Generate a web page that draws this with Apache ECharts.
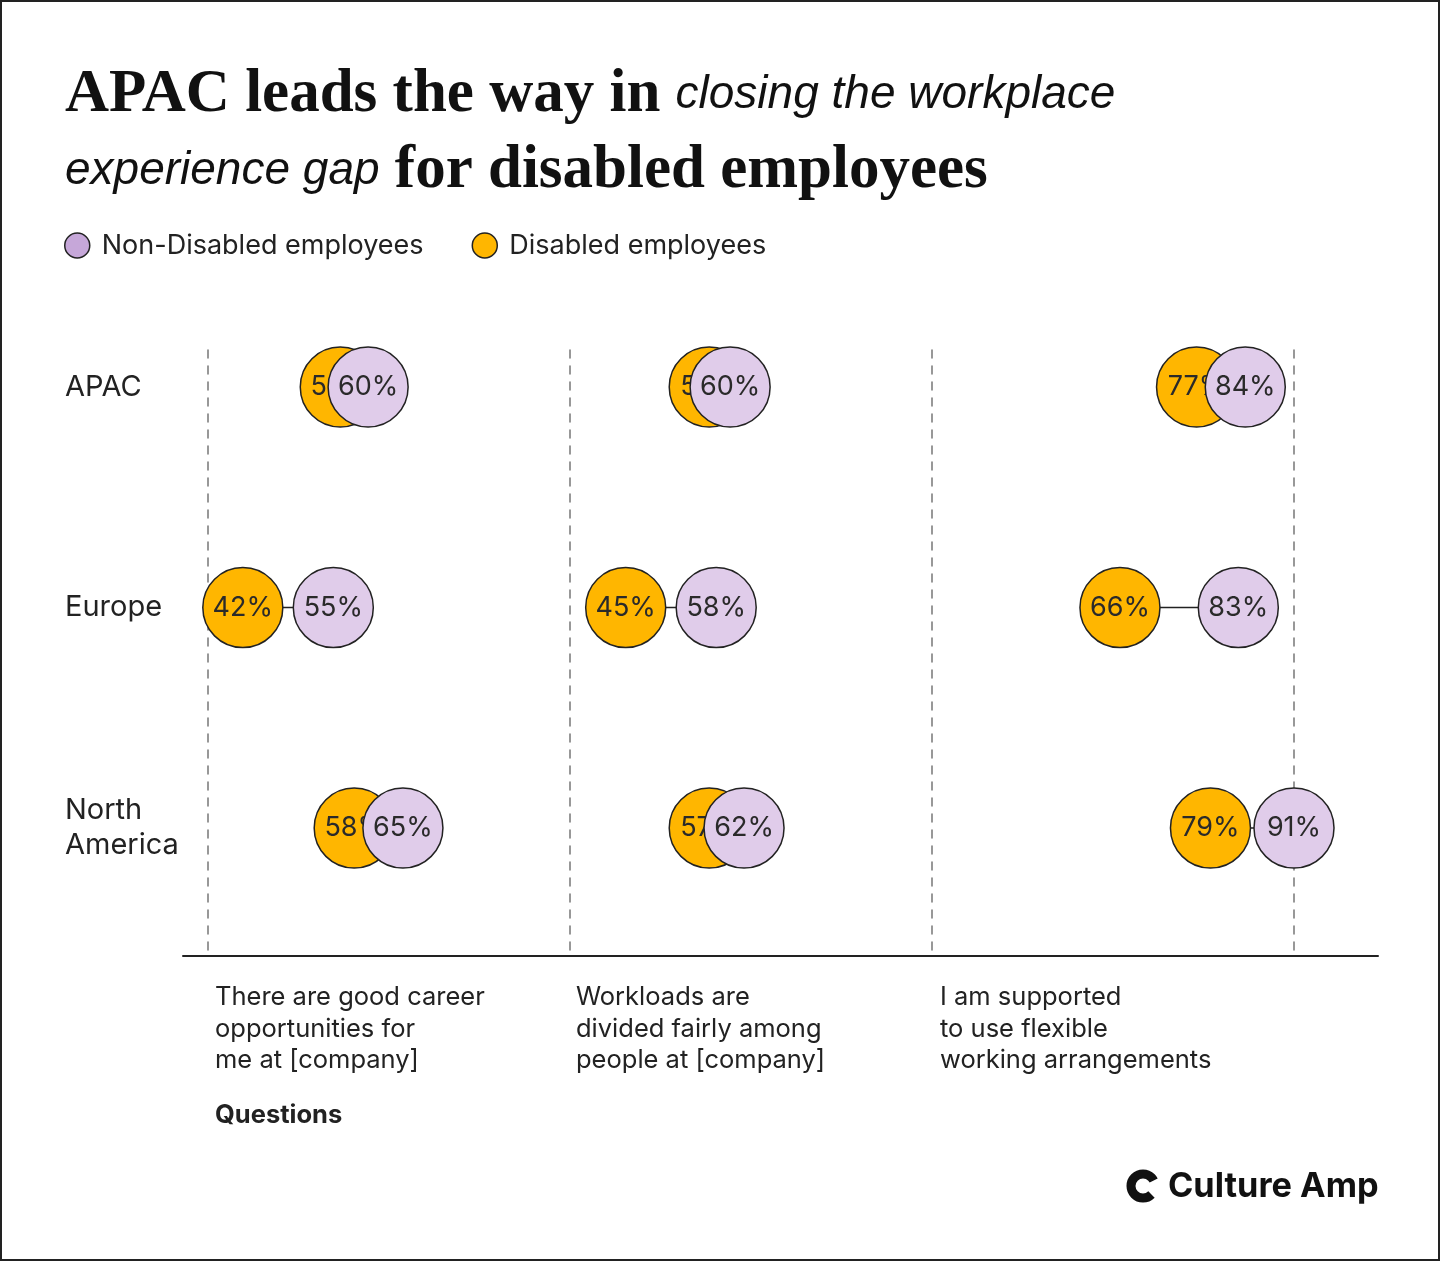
<!DOCTYPE html>
<html>
<head>
<meta charset="utf-8">
<script src="https://cdn.jsdelivr.net/npm/echarts@6/dist/echarts.min.js"></script>
<style>
html,body{margin:0;padding:0;background:#fff;}
#chart{width:1440px;height:1261px;}
</style>
</head>
<body>
<div id="chart"></div>
<script>
// ---- data ----
var regions = ['APAC', 'Europe', 'North America'];
var questions = [
  'There are good career\nopportunities for\nme at [company]',
  'Workloads are\ndivided fairly among\npeople at [company]',
  'I am supported\nto use flexible\nworking arrangements'
];
var disabledCareer = [56, 42, 58];
var nonDisabledCareer = [60, 55, 65];
var disabledWorkload = [57, 45, 57];
var nonDisabledWorkload = [60, 58, 62];
var disabledFlexible = [77, 66, 79];
var nonDisabledFlexible = [84, 83, 91];
var seriesNames = ['Non-Disabled employees', 'Disabled employees'];

var disabledSets = [disabledCareer, disabledWorkload, disabledFlexible];
var nonDisabledSets = [nonDisabledCareer, nonDisabledWorkload, nonDisabledFlexible];

// ---- style ----
var ORANGE = '#FFB600';
var LAVENDER = '#E0CCEA';
var LEGEND_LAV = '#C6A7D9';
var INK = '#222222';
var SANS = 'Inter, "Noto Sans", sans-serif';

var panelLeft = [208, 570, 932];
var panelWidth = 362;
var xRanges = [[37, 89], [37, 89], [39, 91]];
var gridTop = 350, gridBottom = 1261 - 956;
var yMin = -0.168, yMax = 2.58;

var grids = [], xAxes = [], yAxes = [], series = [];
for (var p = 0; p < 3; p++) {
  grids.push({left: panelLeft[p], width: panelWidth, top: gridTop, bottom: gridBottom, containLabel: false});
  xAxes.push({
    type: 'value', gridIndex: p, min: xRanges[p][0], max: xRanges[p][1],
    axisLine: {show: false}, axisTick: {show: false}, axisLabel: {show: false}, splitLine: {show: false}
  });
  yAxes.push({
    type: 'value', gridIndex: p, inverse: true, min: yMin, max: yMax,
    axisLine: {show: true, onZero: false, lineStyle: {color: '#777', width: 1.5, type: [8, 8]}},
    axisTick: {show: false}, splitLine: {show: false},
    axisLabel: p === 0 ? {
      show: true, customValues: [0, 1, 2], align: 'left', margin: 143,
      fontFamily: SANS, fontSize: 29, color: INK, lineHeight: 35, padding: [4, 0, 0, 0],
      formatter: function (v) { return regions[Math.round(v)].replace(' ', '\n'); }
    } : {show: false}
  });
}
// right edge dashed line of the last panel
yAxes.push({
  type: 'value', gridIndex: 2, inverse: true, min: yMin, max: yMax, position: 'right',
  axisLine: {show: true, onZero: false, lineStyle: {color: '#777', width: 1.5, type: [8, 8]}},
  axisTick: {show: false}, axisLabel: {show: false}, splitLine: {show: false}
});
// baseline grid
grids.push({left: 183, right: 1440 - 1378, top: gridTop, bottom: gridBottom});
xAxes.push({type: 'value', gridIndex: 3, min: 0, max: 1,
  axisLine: {show: true, onZero: false, lineStyle: {color: INK, width: 2}},
  axisTick: {show: false}, axisLabel: {show: false}, splitLine: {show: false}});
yAxes.push({type: 'value', gridIndex: 3, min: 0, max: 1, show: false});

for (var p = 0; p < 3; p++) {
  var dData = [], nData = [], cData = [];
  for (var r = 0; r < regions.length; r++) {
    dData.push([disabledSets[p][r], r]);
    nData.push([nonDisabledSets[p][r], r]);
    cData.push([disabledSets[p][r], nonDisabledSets[p][r], r]);
  }
  series.push({
    type: 'custom', xAxisIndex: p, yAxisIndex: p, z: 1, silent: true,
    data: cData,
    renderItem: function (params, api) {
      var a = api.coord([api.value(0), api.value(2)]);
      var b = api.coord([api.value(1), api.value(2)]);
      return {type: 'line', shape: {x1: a[0], y1: a[1], x2: b[0], y2: b[1]},
        style: {stroke: INK, lineWidth: 1.5}};
    }
  });
  var lab = {
    show: true, position: 'inside', fontFamily: SANS, fontSize: 27, color: '#2a2a2a',
    formatter: function (prm) { return prm.value[0] + '%'; }
  };
  series.push({
    name: seriesNames[1], type: 'scatter', xAxisIndex: p, yAxisIndex: p, z: 3,
    symbol: 'circle', symbolSize: 80, data: dData,
    itemStyle: {color: ORANGE, borderColor: INK, borderWidth: 1.5, opacity: 1},
    label: lab, emphasis: {disabled: true}
  });
  series.push({
    name: seriesNames[0], type: 'scatter', xAxisIndex: p, yAxisIndex: p, z: 4,
    symbol: 'circle', symbolSize: 80, data: nData,
    itemStyle: {color: LAVENDER, borderColor: INK, borderWidth: 1.5, opacity: 1},
    label: lab, emphasis: {disabled: true}
  });
}

var titles = [{
  left: 65, top: 57, padding: 0,
  text: '{b|APAC leads the way in }{h|closing the workplace}\n{h|experience gap}{b| for disabled employees}',
  textStyle: {
    rich: {
      b: {fontFamily: '"Liberation Serif", "DejaVu Serif", serif', fontWeight: 'bold', fontSize: 61, color: '#111', lineHeight: 76},
      h: {fontFamily: '"Liberation Sans", Arimo, sans-serif', fontStyle: 'italic', fontWeight: 'normal', fontSize: 46, color: '#111', lineHeight: 76}
    }
  }
}];
for (var q = 0; q < 3; q++) {
  titles.push({
    left: [215, 576, 940][q], top: 982, padding: 0, text: questions[q],
    textStyle: {fontFamily: SANS, fontSize: 25.5, fontWeight: 'normal', color: INK, lineHeight: 31.5}
  });
}
titles.push({left: 215, top: 1102, padding: 0, text: 'Questions',
  textStyle: {fontFamily: SANS, fontSize: 25.5, fontWeight: 'bold', color: INK}});
titles.push({left: 1168, top: 1170, padding: 0, text: 'Culture Amp',
  textStyle: {fontFamily: SANS, fontSize: 34.3, fontWeight: 'bold', color: '#111'}});

var option = {
  backgroundColor: '#fff',
  animation: false,
  title: titles,
  legend: {
    left: 64, top: 232, padding: 0, itemGap: 48, itemWidth: 25, itemHeight: 25,
    icon: 'circle',
    data: [
      {name: seriesNames[0], itemStyle: {color: LEGEND_LAV, borderColor: INK, borderWidth: 1.5}},
      {name: seriesNames[1], itemStyle: {color: ORANGE, borderColor: INK, borderWidth: 1.5}}
    ],
    textStyle: {fontFamily: SANS, fontSize: 27, color: INK, padding: [0, 0, 0, 7]},
    selectedMode: false
  },
  grid: grids, xAxis: xAxes, yAxis: yAxes, series: series,
  graphic: [
    {type: 'rect', shape: {x: 1, y: 1, width: 1438, height: 1259}, style: {fill: null, stroke: '#222', lineWidth: 2}, silent: true},
    {type: 'arc', shape: {cx: 1143, cy: 1186, r: 12, startAngle: Math.PI * 0.25, endAngle: Math.PI * 1.85}, style: {fill: null, stroke: '#111', lineWidth: 9}, silent: true}
  ]
};
var chart = echarts.init(document.getElementById('chart'), null, {renderer: 'canvas'});
chart.setOption(option);
</script>
</body>
</html>
